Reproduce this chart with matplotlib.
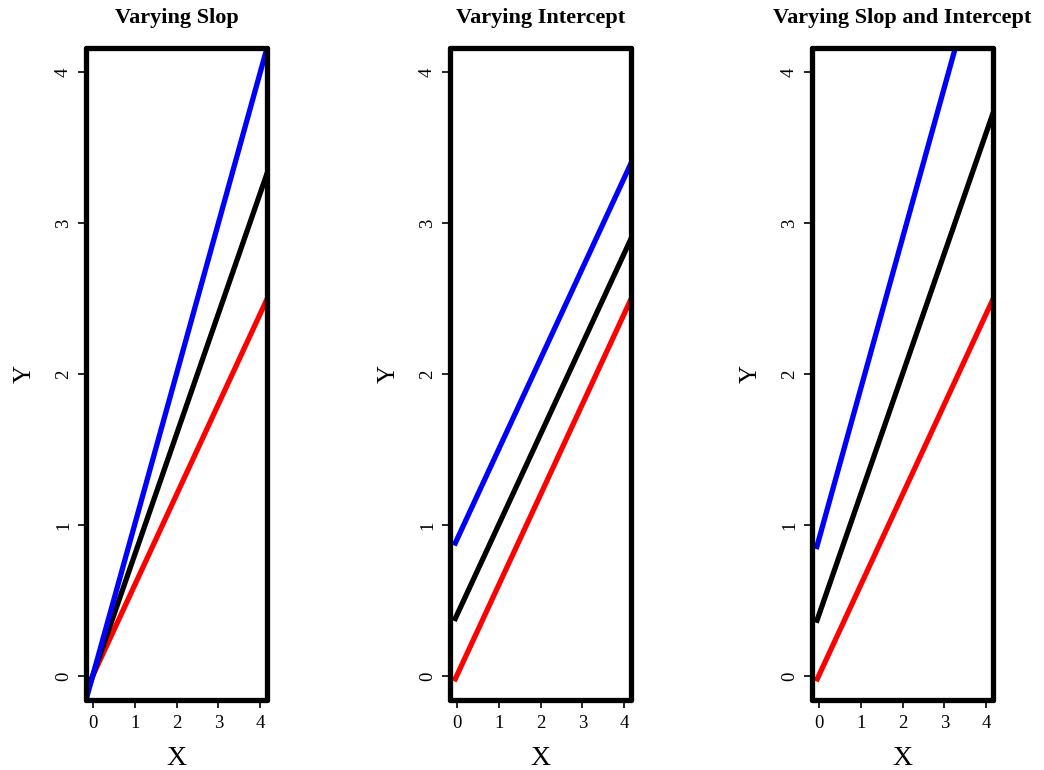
import numpy as np
import matplotlib.pyplot as plt

plt.rcParams['font.family'] = ['Liberation Serif', 'DejaVu Serif']

titles = ['Varying Slop', 'Varying Intercept', 'Varying Slop and Intercept']
colors = ['red', 'black', 'blue']
# (intercept, slope) for red, black, blue in each panel
intercepts = [[0.0, 0.0, 0.0], [0.0, 0.4, 0.9], [0.0, 0.4, 0.9]]
slopes = [[0.6, 0.8, 1.0], [0.6, 0.6, 0.6], [0.6, 0.8, 1.0]]
x_start = [-0.2, -0.06, -0.06]
ticks = [0, 1, 2, 3, 4]

fig = plt.figure(figsize=(10.44, 7.7), dpi=100)
lefts = [86, 450, 812]
for i in range(3):
    ax = fig.add_axes([lefts[i] / 1044, 70 / 770, 181 / 1044, 652 / 770])
    xs = np.array([x_start[i], 4.5])
    for a, b, c in zip(intercepts[i], slopes[i], colors):
        ax.plot(xs, a + b * xs, color=c, lw=3.8, solid_capstyle='butt', zorder=2)
    ax.set_xlim(-0.16, 4.16)
    ax.set_ylim(-0.16, 4.16)
    ax.set_xticks(ticks)
    ax.set_yticks(ticks)
    ax.tick_params(direction='out', length=6, width=1.2, labelsize=13.5)
    ax.tick_params(axis='x', pad=5)
    ax.tick_params(axis='y', pad=4)
    for lab in ax.get_yticklabels():
        lab.set_rotation(90)
        lab.set_va('center')
    for sp in ax.spines.values():
        sp.set_linewidth(3.8)
        sp.set_zorder(5)
        sp.set_capstyle('round')
    ax.set_title(titles[i], fontsize=16, fontweight='bold', pad=18)
    ax.set_xlabel('X', fontsize=20, labelpad=10)
    ax.set_ylabel('Y', fontsize=18, labelpad=14)

fig.savefig('out.png', dpi=100)
